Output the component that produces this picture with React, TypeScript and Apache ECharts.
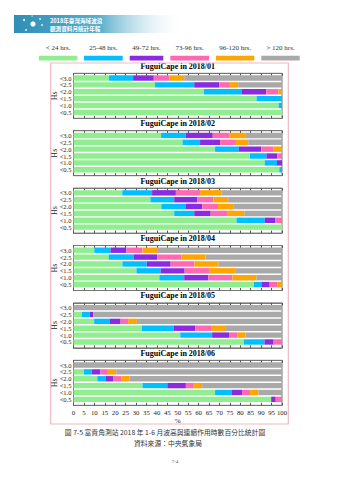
import React, { useEffect, useRef } from "react";
import * as echarts from "echarts";

const categories = ["<3.0", "<2.5", "<2.0", "<1.5", "<1.0", "<0.5"];
const durations = ["< 24 hrs.", "25-48 hrs.", "49-72 hrs.", "73-96 hrs.", "96-120 hrs.", "> 120 hrs."];
const colors = ["#90EE90", "#00BFFF", "#8A2BE2", "#FF69B4", "#FFA500", "#A9A9A9"];
const months = ["2018/01", "2018/02", "2018/03", "2018/04", "2018/05", "2018/06"];
const xTicks = [0, 5, 10, 15, 20, 25, 30, 35, 40, 45, 50, 55, 60, 65, 70, 75, 80, 85, 90, 95, 100];

// rows: categories (<3.0 ... <0.5); columns: durations
const jan = [
  [17, 11.6, 9.9, 7.6, 7, 46.9],
  [39.1, 18.8, 12.1, 5, 4, 21],
  [62.6, 18.2, 11.7, 5.8, 1.7, 0],
  [87.8, 12.2, 0, 0, 0, 0],
  [98.4, 1.6, 0, 0, 0, 0],
  [100, 0, 0, 0, 0, 0],
];
const feb = [
  [42, 11.9, 12.9, 7.9, 8, 17.3],
  [52.3, 8.4, 9.6, 7.6, 5.9, 16.2],
  [67.9, 11.4, 10.8, 5.9, 4, 0],
  [84.6, 7.9, 5.3, 2.2, 0, 0],
  [91.7, 5.9, 2.4, 0, 0, 0],
  [98.7, 1.3, 0, 0, 0, 0],
];
const mar = [
  [23.4, 14.3, 11.4, 11.6, 10.4, 28.9],
  [36.9, 11.4, 11, 7.8, 7.1, 25.8],
  [42.1, 11.6, 8, 7.6, 7.3, 23.4],
  [48.3, 9.6, 7.9, 7.8, 8.3, 18.1],
  [78.2, 13.5, 5, 3.3, 0, 0],
  [100, 0, 0, 0, 0, 0],
];
const apr = [
  [10, 7.8, 7.6, 7.7, 7.4, 59.5],
  [16.9, 11.9, 11.4, 11.5, 11.6, 36.7],
  [23.5, 11.6, 11.5, 11.4, 11.6, 30.4],
  [30.2, 11.6, 11.5, 11.7, 12.9, 22.1],
  [41.2, 11.9, 11.6, 11.5, 11.6, 12.2],
  [86.5, 3.6, 4, 3.7, 2.2, 0],
];
const may = [
  [0, 0, 0, 0, 0, 100],
  [4, 3.8, 1.6, 0, 0, 90.6],
  [9.9, 7.6, 5.1, 3.6, 4.2, 69.6],
  [32.8, 15.2, 10.5, 7.5, 6.7, 27.3],
  [51.2, 15.3, 8.1, 3.9, 4, 17.5],
  [81.7, 9.9, 4.4, 4, 0, 0],
];
const jun = [
  [0, 0, 0, 0, 0, 100],
  [4.9, 3.8, 4.2, 3.6, 4, 79.5],
  [11.4, 4, 3.8, 3.7, 4, 73.1],
  [33.1, 11.9, 8.9, 3.8, 4, 38.3],
  [67.9, 8.1, 4.8, 3.9, 4, 11.3],
  [94.8, 0, 2.2, 3, 0, 0],
];
const monthData = [jan, feb, mar, apr, may, jun];

const SERIF = '"Liberation Serif", "DejaVu Serif", serif';
const CJK = '"Noto Sans CJK TC", "Noto Sans CJK SC", sans-serif';

export default function App() {
  const ref = useRef<HTMLDivElement>(null);
  useEffect(() => {
    if (!ref.current) return;
    const chart = echarts.init(ref.current, undefined, { renderer: "svg" });
    const LEFT = 73.5;
    const WIDTH = 208.5;
    const T0 = 73.3;
    const PERIOD = 57.4;
    const grid: any[] = [];
    const xAxis: any[] = [];
    const yAxis: any[] = [];
    const series: any[] = [];
    const graphic: any[] = [];

    monthData.forEach((rows, p) => {
      const T = T0 + p * PERIOD;
      const last = p === monthData.length - 1;
      grid.push({ left: LEFT, width: WIDTH, top: T + 1.3, height: 41.2, containLabel: false });
      grid.push({ left: LEFT, width: WIDTH, top: T, height: 45, show: true, borderColor: "#777", borderWidth: 1, backgroundColor: "transparent", containLabel: false });
      const gb = p * 2;
      const gf = p * 2 + 1;
      xAxis.push({ gridIndex: gb, type: "value", min: 0, max: 100, show: false });
      xAxis.push({
        gridIndex: gf, type: "value", min: 0, max: 100, interval: 5, position: "bottom",
        axisLine: { show: true, lineStyle: { color: "#777", width: 1 } },
        axisTick: { show: true, inside: true, length: 2.5, lineStyle: { color: "#555" } },
        axisLabel: { show: last, fontSize: 6.8, fontFamily: SERIF, color: "#222", margin: 4, customValues: xTicks },
        splitLine: { show: false },
        name: last ? "%" : "", nameLocation: "middle", nameGap: 12,
        nameTextStyle: { fontSize: 7, fontFamily: SERIF, color: "#222" },
      });
      xAxis.push({
        gridIndex: gf, type: "value", min: 0, max: 100, interval: 5, position: "top",
        axisLine: { show: true, lineStyle: { color: "#777", width: 1 } },
        axisTick: { show: true, inside: true, length: 2.5, lineStyle: { color: "#555" } },
        axisLabel: { show: false }, splitLine: { show: false },
      });
      yAxis.push({
        gridIndex: gb, type: "category", inverse: true, data: categories,
        axisLine: { show: false },
        axisTick: { show: true, inside: true, alignWithLabel: true, interval: 0, length: 2, lineStyle: { color: "#555" } },
        axisLabel: { fontSize: 6.5, fontFamily: SERIF, color: "#222", margin: 2, interval: 0, hideOverlap: false },
      });
      yAxis.push({ gridIndex: gf, type: "value", show: false, min: 0, max: 1 });
      durations.forEach((d, k) => {
        series.push({
          type: "bar", name: d, stack: "m" + p, xAxisIndex: p * 3, yAxisIndex: p * 2,
          data: rows.map((r) => r[k]), barWidth: 5.4, itemStyle: { color: colors[k] },
          silent: true,
        });
      });
      graphic.push({
        type: "text", x: LEFT + WIDTH / 2, y: T - 7,
        style: { text: "FuguiCape in " + months[p], fontSize: 8, fontWeight: "bold", fontFamily: SERIF, fill: "#000", align: "center", verticalAlign: "middle" },
      });
      graphic.push({
        type: "text", x: 54.5, y: T + 22.5, rotation: Math.PI / 2,
        style: { text: "Hs", fontSize: 8, fontFamily: SERIF, fill: "#222", align: "center", verticalAlign: "middle" },
      });
    });

    // legend
    const legX = [[39, 77.3], [84, 122.7], [129.7, 163.3], [170.3, 209], [216, 254.3], [261.3, 299.7]];
    durations.forEach((d, k) => {
      const [a, b] = legX[k];
      graphic.push({ type: "rect", shape: { x: a, y: 55.8, width: b - a, height: 4.6 }, style: { fill: colors[k] } });
      graphic.push({
        type: "text", x: (a + b) / 2, y: 48.3,
        style: { text: d, fontSize: 7, fontFamily: SERIF, fill: "#333", align: "center", verticalAlign: "middle" },
      });
    });

    // pink frame
    graphic.push({ type: "rect", shape: { x: 50.7, y: 63, width: 237.6, height: 361 }, style: { fill: "none", stroke: "#EDB9BE", lineWidth: 1.2 } });

    // header banner
    graphic.push({
      type: "rect", shape: { x: 14, y: 15, width: 172, height: 18 },
      style: {
        fill: new echarts.graphic.LinearGradient(0, 0, 1, 0, [
          { offset: 0, color: "#2F8FB6" },
          { offset: 0.5, color: "#5AAECB" },
          { offset: 1, color: "rgba(255,255,255,0)" },
        ]),
      },
    });
    [[24, 20, 1], [40, 19, 0.8], [42, 25, 0.8], [26, 30, 0.8], [32, 16, 0.6]].forEach(([cx, cy, r]) => {
      graphic.push({ type: "circle", shape: { cx, cy, r }, style: { fill: "#fff" } });
    });
    graphic.push({ type: "circle", shape: { cx: 33, cy: 24, r: 2.6 }, style: { fill: "#fff" } });
    graphic.push({ type: "text", x: 50, y: 21.2, style: { text: "2018年臺灣海域波浪", fontSize: 5.6, fontWeight: "bold", fontFamily: CJK, fill: "#fff", verticalAlign: "middle" } });
    graphic.push({ type: "text", x: 50, y: 28.6, style: { text: "觀測資料月統計年報", fontSize: 5.6, fontWeight: "bold", fontFamily: CJK, fill: "#fff", verticalAlign: "middle" } });

    // captions
    graphic.push({ type: "text", x: 165, y: 432, style: { text: "圖 7-5 富貴角測站 2018 年 1-6 月波高與連續作用時數百分比統計圖", fontSize: 6.8, fontFamily: CJK, fill: "#333", align: "center", verticalAlign: "middle" } });
    graphic.push({ type: "text", x: 168, y: 442.5, style: { text: "資料來源：中央氣象局", fontSize: 6.8, fontFamily: CJK, fill: "#333", align: "center", verticalAlign: "middle" } });
    graphic.push({ type: "text", x: 175, y: 461.7, style: { text: "7-4", fontSize: 5, fontFamily: SERIF, fill: "#555", align: "center", verticalAlign: "middle" } });

    chart.setOption({
      animation: false,
      backgroundColor: "#fff",
      grid, xAxis, yAxis, series, graphic,
    });
    return () => chart.dispose();
  }, []);
  return <div ref={ref} style={{ position: "fixed", left: 0, top: 0, width: 339, height: 480 }} />;
}
